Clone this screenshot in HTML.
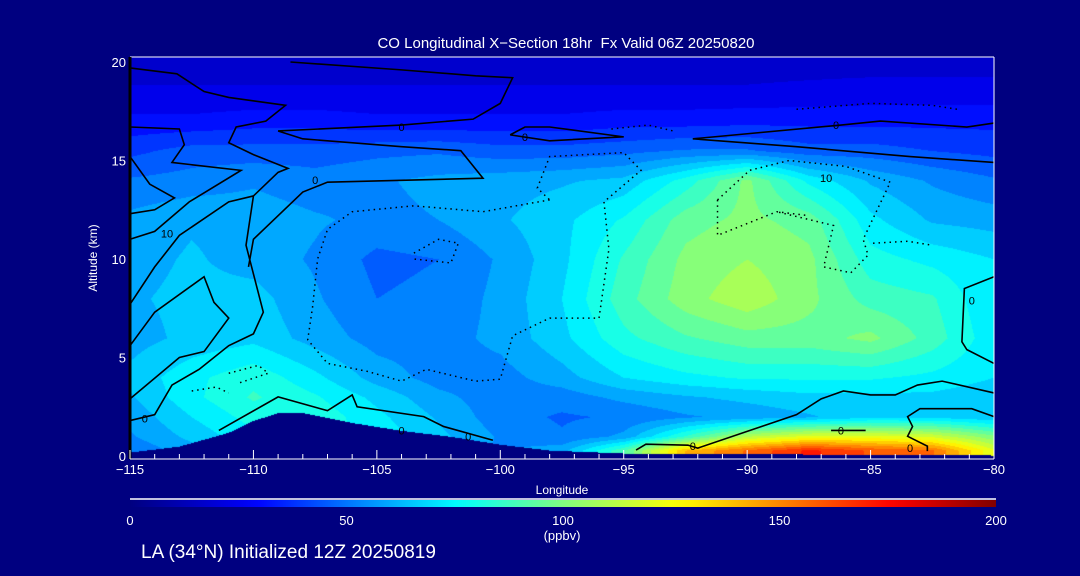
<!DOCTYPE html>
<html><head><meta charset="utf-8"><style>
body{margin:0;background:#000080;width:1080px;height:576px;overflow:hidden;font-family:"Liberation Sans",sans-serif;color:#fff;position:relative}
.t{position:absolute;white-space:nowrap;color:#fff}
canvas{position:absolute;left:130px;top:57px}
svg{position:absolute;left:0;top:0}
</style></head><body>
<div class="t" style="left:0;width:1132px;text-align:center;top:35px;font-size:15px">CO Longitudinal X−Section 18hr&nbsp; Fx Valid 06Z 20250820</div>
<canvas id="cv" width="864" height="402"></canvas>
<svg id="sv" width="1080" height="576"></svg>
<div class="t" style="left:93px;top:258px;font-size:12px;transform:translate(-50%,-50%) rotate(-90deg)">Altitude (km)</div>
<div class="t" style="left:562px;top:483px;font-size:12px;transform:translateX(-50%)">Longitude</div>
<div class="t" style="left:562px;top:528px;font-size:13px;transform:translateX(-50%)">(ppbv)</div>
<div class="t" style="left:141px;top:542px;font-size:19px">LA (34°N) Initialized 12Z 20250819</div>
<script>
const lons=[-115,-112.5,-110,-107.5,-105,-102.5,-100,-97.5,-95,-92.5,-90,-87.5,-85,-82.5,-80];
const alts=[0.3,1,2,3,4,6,8,10,12,14,15.5,17,18.5,20];
const co=[
[50,60,70,78,70,60,55,60,90,140,155,170,160,155,120],
[55,65,75,80,75,65,55,50,58,85,112,122,122,118,100],
[58,70,80,82,72,62,52,48,50,55,58,62,68,68,64],
[62,75,85,78,68,58,52,52,58,62,65,68,68,68,65],
[65,75,82,72,60,53,53,60,70,75,78,78,78,75,70],
[60,65,68,60,53,53,58,68,82,90,95,95,100,88,72],
[62,65,66,57,49,51,58,70,88,102,110,100,88,85,70],
[60,64,60,55,47,49,57,68,85,100,105,100,80,75,70],
[58,62,60,57,54,56,62,68,78,95,100,95,72,62,60],
[50,52,55,52,55,58,60,62,65,80,100,75,62,55,50],
[40,45,45,45,47,48,45,45,47,50,50,45,45,42,40],
[30,30,32,32,30,30,30,30,32,32,33,33,33,33,33],
[22,22,22,22,22,22,22,22,22,22,22,23,24,24,24],
[18,18,18,18,18,18,18,18,18,18,18,18,18,18,18]];
const terrLon=[-115,-113,-111,-110,-109,-108,-106,-104,-102,-100,-98,-95,-80];
const terrAlt=[0.2,0.5,1.2,1.8,2.2,2.2,1.7,1.3,1.0,0.6,0.3,0.15,0.05];
const xTicks=[-115,-110,-105,-100,-95,-90,-85,-80];
const yTicks=[0,5,10,15,20];
const cbTicks=[0,50,100,150,200];
const solidLines=[
[[-115,19.7],[-113.1,19.4],[-112,18.5],[-111,18.2],[-108.7,17.8],[-109.5,17],[-110.7,16.7],[-111,15.9],[-110,15.3],[-108.6,14.6],[-109,14.4],[-110,13.2],[-110.3,10.7],[-109.6,7.3],[-110,6.2],[-111,5.6],[-112.2,4.4],[-113.3,3.6],[-114,2.1],[-115,1.8]],
[[-115,2.9],[-113,5],[-112,5.3],[-111,7],[-111.6,7.8],[-112,9.1],[-114,7.3],[-115,5.6]],
[[-115,11],[-114,11.4],[-112.6,12.9],[-110.5,14.5],[-113.3,14.9],[-112.8,15.8],[-113,16.6],[-115,16.7]],
[[-115,7.7],[-114,9.6],[-113,11.2],[-111,12.9],[-110,13.2]],
[[-115,15.2],[-114.2,13.8],[-113.2,13.1],[-114,12.5],[-115,12.3]],
[[-108.5,20],[-104,19.6],[-101,19.3],[-99.5,19.2],[-100,17.9],[-101.1,17.1],[-104,16.8],[-109,16.5],[-108,16.1],[-104,15.7],[-101.6,15.5],[-100.7,14.1],[-107,13.9],[-108,13.4],[-110,11],[-110.2,9.6]],
[[-99.6,16.3],[-99,16.7],[-98,16.7],[-95,16.2],[-98,16.0],[-99.6,16.3]],
[[-92.2,16.1],[-86.2,16.8],[-84.6,17],[-81.1,16.7],[-80,16.9]],
[[-92.2,16.1],[-88,15.7],[-83.4,15.2],[-80,14.9]],
[[-111.4,1.3],[-109,3],[-107,2.3],[-106,3.1],[-105.8,2.5],[-103.1,2],[-102.3,1.5],[-100.3,0.8]],
[[-94.5,0.3],[-94.1,0.6],[-92.4,0.55],[-92,0.4],[-88,2.1],[-87,2.9],[-86.1,3.3],[-85,3.1],[-84,3.1],[-83.1,3.6],[-82.1,3.8],[-80,3.2]],
[[-82.7,0.25],[-82.7,0.5],[-83.5,1],[-83.3,1.5],[-83.5,2],[-83,2.4],[-80.9,2.4],[-80,2]],
[[-80,9.1],[-81.2,8.5],[-81.3,5.8],[-81.1,5.4],[-80,4.7]],
[[-86.6,1.3],[-85.2,1.3]]];
const dotLines=[
[[-98,13],[-100.7,12.4],[-103.5,12.7],[-106,12.4],[-107,11.5],[-107.4,10],[-107.6,7.6],[-107.8,5.9],[-107,4.7],[-105.4,4.3],[-104,3.8],[-103,4.4],[-101,3.8],[-100,3.9],[-99.5,6.1],[-98,7],[-96,7],[-95.6,10.5],[-95.8,12.9],[-94.3,14.5],[-95,15.4],[-98,15.2],[-98.5,13.6],[-98,13]],
[[-91.2,13],[-91.2,11.2],[-88.8,12.4],[-87.5,12.2]],
[[-91.2,13],[-89.9,14.5],[-88.3,15],[-86,14.7],[-84.2,13.9],[-85.3,11],[-85.1,10.2],[-85.8,9.3],[-86.9,9.6],[-86.5,11.7],[-88.8,12.4]],
[[-84.9,10.8],[-83.5,10.9],[-82.5,10.7]],
[[-103.5,10.3],[-102.5,11],[-101.7,10.8],[-102,9.8],[-103.5,10.0]],
[[-112.5,3.3],[-111.5,3.5],[-111,3.2]],[[-111,4.2],[-109.8,4.6],[-109.4,4.2],[-110.6,3.7]],
[[-88,17.6],[-85,17.9],[-82.5,17.8],[-81.5,17.6]],[[-95.5,16.6],[-94,16.8],[-93,16.5]]];
const labels=[[-104,16.7,'0'],[-107.5,14,'0'],[-113.5,11.3,'10'],[-114.4,1.9,'0'],[-104,1.3,'0'],[-101.3,1.0,'0'],[-92.2,0.5,'0'],[-86.2,1.3,'0'],[-83.4,0.4,'0'],[-80.9,7.9,'0'],[-86.4,16.8,'0'],[-99,16.2,'0'],[-86.8,14.1,'10']];

const X=l=>130+(l+115)*(864/35);
const Y=a=>456-a*19.7;
function cmap(v){
  const s=[[0,[0,0,128]],[29,[0,0,255]],[52,[0,128,255]],[76,[0,255,255]],[100,[128,255,128]],[127,[255,255,0]],[176,[255,0,0]],[200,[128,0,0]]];
  v=Math.max(0,Math.min(200,v));
  for(let i=1;i<s.length;i++){if(v<=s[i][0]){const t=(v-s[i-1][0])/(s[i][0]-s[i-1][0]);return s[i-1][1].map((c,k)=>Math.round(c+(s[i][1][k]-c)*t));}}
  return s[s.length-1][1];
}
function idx(arr,v){let i=0;while(i<arr.length-2&&v>arr[i+1])i++;let t=(v-arr[i])/(arr[i+1]-arr[i]);return [i,Math.max(0,Math.min(1,t))];}
function terrain(l){const [i,t]=idx(terrLon,l);return terrAlt[i]+(terrAlt[i+1]-terrAlt[i])*t;}
const cv=document.getElementById('cv'),ctx=cv.getContext('2d');
const img=ctx.createImageData(864,402);
for(let py=0;py<402;py++){
  const a=(456-(py+57))/19.7;
  for(let px=0;px<864;px++){
    const l=-115+(px+0.5)*35/864;
    let c;
    if(a<terrain(l)) c=[0,0,128];
    else{
      const [i,ti]=idx(alts,a),[j,tj]=idx(lons,l);
      const v=(co[i][j]*(1-tj)+co[i][j+1]*tj)*(1-ti)+(co[i+1][j]*(1-tj)+co[i+1][j+1]*tj)*ti;
      const q=Math.floor(v/7)*7+3.5;
      c=cmap(q);
    }
    const o=(py*864+px)*4;img.data[o]=c[0];img.data[o+1]=c[1];img.data[o+2]=c[2];img.data[o+3]=255;
  }
}
ctx.putImageData(img,0,0);
const sv=document.getElementById('sv');const NS='http://www.w3.org/2000/svg';
function el(tag,at,parent){const e=document.createElementNS(NS,tag);for(const k in at)e.setAttribute(k,at[k]);(parent||sv).appendChild(e);return e;}
solidLines.forEach(ln=>{const p=el('polyline',{points:ln.map(q=>X(q[0])+','+Y(q[1])).join(' '),fill:'none',stroke:'#000','stroke-width':1.6});

});
dotLines.forEach(ln=>{const p=el('polyline',{points:ln.map(q=>X(q[0])+','+Y(q[1])).join(' '),fill:'none',stroke:'#000','stroke-width':1.5,'stroke-dasharray':'1.5 4'});

});
labels.forEach(lb=>{const t=el('text',{x:X(lb[0]),y:Y(lb[1])+4,'font-size':11,'text-anchor':'middle',fill:'#000','font-family':'Liberation Sans, sans-serif'});t.textContent=lb[2];

});
el('line',{x1:130,y1:57,x2:994,y2:57,stroke:'#fff','stroke-width':1});
el('line',{x1:994,y1:57,x2:994,y2:459,stroke:'#fff','stroke-width':1});
el('line',{x1:130,y1:57,x2:130,y2:459,stroke:'#000','stroke-width':3});
const ax=el('line',{x1:130,y1:459,x2:994,y2:459,stroke:'#fff','stroke-width':1});


for(let l=-115;l<=-80;l++){el('line',{x1:X(l),y1:459,x2:X(l),y2:l%5===0?450:454,stroke:'#fff','stroke-width':1});}
xTicks.forEach(v=>{const t=el('text',{x:X(v),y:474,'font-size':13,'text-anchor':'middle',fill:'#fff','font-family':'Liberation Sans, sans-serif'});t.textContent=(v<0?'−':'')+Math.abs(v);

});
yTicks.forEach(v=>{const t=el('text',{x:126,y:Y(v)+5,'font-size':13,'text-anchor':'end',fill:'#fff','font-family':'Liberation Sans, sans-serif'});t.textContent=v;

});
const defs=el('defs',{});const g=el('linearGradient',{id:'cb',x1:0,x2:1,y1:0,y2:0},defs);
for(let v=0;v<=200;v+=5){const c=cmap(v);el('stop',{offset:v/200,'stop-color':`rgb(${c})`},g);}
el('line',{x1:130,y1:499,x2:996,y2:499,stroke:'#fff','stroke-width':1.5});
const cb=el('rect',{x:130,y:500,width:866,height:7,fill:'url(#cb)'});


cbTicks.forEach(v=>{const t=el('text',{x:130+v*866/200,y:525,'font-size':13,'text-anchor':'middle',fill:'#fff','font-family':'Liberation Sans, sans-serif'});t.textContent=v;

});
</script>
</body></html>
